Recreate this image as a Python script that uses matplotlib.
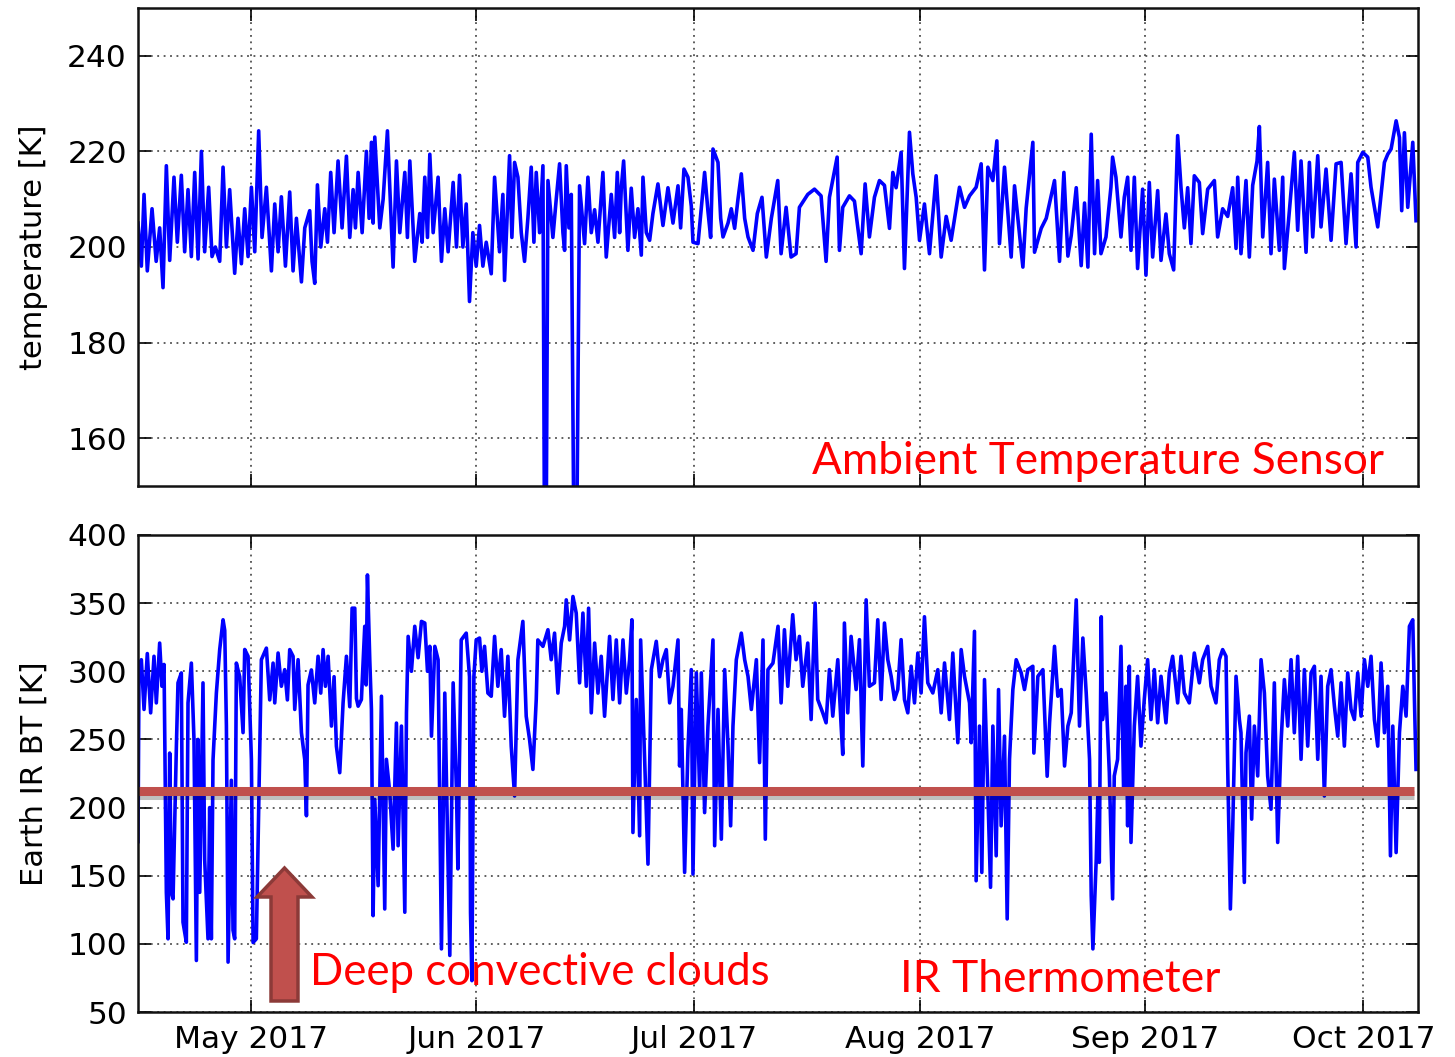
import numpy as np
import pandas as pd
import matplotlib
matplotlib.use("Agg")
import matplotlib.pyplot as plt
import matplotlib.dates as mdates
import matplotlib.patheffects as pe
from matplotlib.patches import Polygon

# ---------------- data ----------------
start_time = "2017-04-15 11:00"
end_days = 176.07

# Ambient temperature sensor: time (days after start) and temperature [K]
temp_days = [
    0.0, 0.46, 0.83, 1.28, 1.93, 2.5, 2.98, 3.44, 3.9, 4.36, 4.95, 5.41, 5.96, 6.42, 6.88, 7.34,
    7.8, 8.26, 8.72, 9.17, 9.72, 10.18, 10.64, 11.24, 11.7, 12.16, 12.61, 13.3, 13.76, 14.22,
    14.68, 15.14, 15.6, 16.06, 16.6, 17.06, 17.66, 18.35, 18.81, 19.27, 19.72, 20.28, 20.87,
    21.33, 21.79, 22.48, 22.94, 23.62, 23.94, 24.31, 24.68, 25.14, 25.69, 26.06, 26.51, 26.97,
    27.52, 28.07, 28.67, 29.13, 29.59, 29.91, 30.28, 30.83, 31.42, 31.79, 32.11, 32.34, 32.57,
    33.26, 33.72, 34.31, 35.09, 35.55, 36.01, 36.7, 37.06, 37.39, 38.07, 38.76, 39.08, 39.45,
    39.82, 40.14, 40.6, 41.28, 41.74, 42.2, 42.66, 43.35, 43.81,
    44.23, 44.69, 45.15, 45.6, 46.06, 46.52, 46.98, 47.44, 47.9, 48.59, 49.05, 49.73, 50.19,
    50.42, 51.11, 51.43, 51.8, 52.26, 52.72, 53.17, 53.63, 54.09, 54.46, 54.78, 55.24, 55.7,
    56.02, 56.39, 57.07, 57.53, 57.99, 58.45, 58.68, 58.91, 59.28, 59.6, 60.15, 60.74, 61.43,
    61.89, 62.35, 62.81, 63.27, 63.95, 64.41, 65.1, 65.56, 65.93, 66.25, 66.48, 66.8, 67.39,
    67.85, 68.31, 68.77, 69.23, 69.46, 69.92, 70.38, 70.83, 71.52, 72.21, 72.9, 73.59, 74.28,
    74.64, 75.1, 75.65, 76.11, 76.34, 77.03, 77.94, 78.4, 78.77, 79.09, 79.78, 80.15, 80.47,
    81.16, 81.61, 82.07, 82.53, 82.99, 83.45, 83.91, 84.6, 85.19, 85.83, 86.43, 87.12,
    88.0, 88.46, 89.15, 89.83, 90.52, 90.98, 92.13, 93.05, 93.96, 94.65, 95.11, 96.17, 96.49,
    96.94, 97.86, 98.55, 99.47, 100.02, 100.61, 101.3, 101.99, 102.68, 103.37, 103.83, 104.28,
    104.97, 105.43, 106.12, 106.58, 107.04, 107.5, 108.18, 108.87, 109.79, 110.48, 111.17,
    111.85, 113.0, 113.69, 114.38, 115.29, 115.98, 116.44, 116.9, 117.59, 118.14, 118.5,
    119.19, 120.11, 120.57, 121.72, 122.17, 123.09, 123.32, 124.24, 124.93, 126.07, 126.76,
    127.36, 127.91, 128.37, 129.06, 129.74, 130.2, 130.66, 131.12, 131.58, 132.0, 132.46,
    133.15, 133.83, 134.06, 134.52, 135.21, 135.67, 136.13, 136.59, 137.05, 137.5, 138.19,
    138.65, 139.11, 139.57, 140.26, 140.72, 141.4, 141.86, 142.46, 143.01, 143.47, 143.93,
    144.39, 144.84, 145.3, 145.99, 146.45, 147.14, 148.06, 148.51, 149.2, 149.89, 150.58,
    151.04, 151.27, 151.72, 152.41, 152.87, 153.33, 153.93, 154.25, 154.71, 155.39, 155.85,
    156.31, 157.0, 157.46, 157.69, 158.38, 159.06, 159.52, 159.98, 160.67, 161.13, 161.59,
    162.28, 162.73, 163.42, 164.11, 164.8, 165.49, 166.17, 166.86, 167.55, 167.78, 168.47,
    169.16, 169.61, 170.53, 171.45, 171.91, 172.37, 173.06, 173.52, 173.83, 174.2, 174.66,
    175.35, 175.8,
]
temp_vals = [
    205, 196, 211, 195, 208, 197, 204, 191.5, 217, 197.2, 214.6, 201, 215, 199, 212, 198,
    215.6, 197.5, 220, 199, 212.5, 198, 200, 197, 216.7, 200, 212, 194.5, 206, 196.5,
    208, 198, 212.5, 199, 224.3, 202, 212.5, 195, 209, 199, 210.5, 196, 211.5,
    195, 206, 192.7, 204, 207.6, 197, 192.4, 213, 200, 208, 201, 215.6, 203,
    218, 204, 219, 202, 212, 204, 215.6, 203, 220, 206, 221.9, 205, 223,
    204, 210, 224.3, 195.8, 218, 203, 215.6, 202, 218, 197, 207, 201, 214.6,
    202, 219.4, 203, 214.6, 197, 208, 199, 213.5, 200,
    215, 200, 209, 188.6, 203, 196, 204.5, 196, 201, 194.4, 214.6, 199, 211,
    193, 219.1, 202, 217.7, 214.6, 203, 197, 206, 216.7, 201, 215.6, 203, 217,
    100, 213.9, 202, 210, 217.4, 203, 199.3, 217, 204, 211, 100, 212.8, 200.7,
    214.6, 203, 207.8, 201, 215.6, 197.9, 211, 202, 215.6, 203, 212.4, 218, 199.3,
    212.3, 202, 208, 198.3, 214.6, 203, 201.4, 207, 213.2, 204.5, 212.4, 205, 212.8,
    204, 216.3, 214.6, 208.5, 201, 200.7, 215.6, 207.5, 202, 220.5, 217.7, 206, 202.1,
    205, 208, 203.9, 210, 215.3, 206, 202.1, 199.3, 207, 210.4, 197.9, 206,
    213.9, 198.6, 208.3, 197.9, 198.6, 208.3, 211, 212.1, 210.7, 197, 210.4, 218.8, 199.3,
    208.3, 210.7, 209.6, 198.6, 213.2, 202.1, 210.4, 213.9, 212.9, 203.9, 215.6, 212.4,
    219.8, 195.5, 224, 215.3, 210.4, 201.4, 209, 198.6, 214.9, 197.9, 206.4,
    201.4, 212.5, 208.3, 210.7, 212.5, 217.4, 195.2, 216.7, 213.9, 222.2, 200.7,
    216.7, 197.9, 212.8, 195.8, 208.1, 221.9, 198.9, 203.9, 206, 213.9, 197,
    215.6, 198.1, 202.4, 212.4, 196.1, 209.2, 195.8, 223.6, 198.6, 213.9, 198.6,
    202.1, 212.5, 218.8, 214.6, 202.1, 210.4, 214.6, 199.3, 214.6, 195.5, 212.1,
    194.1, 213.5, 197.9, 211.8, 197.2, 206.9, 198.6, 195.2, 223.3, 212.4, 204,
    212.4, 200.7, 214.9, 213.5, 202.8, 212.1, 213.9, 202.1, 208, 206.4, 212.4,
    199.7, 214.6, 198.6, 213.9, 197.9, 212.9, 218, 225.2, 202.1, 217.7, 198.6,
    214.2, 199.3, 214.6, 195.5, 207.6, 219.8, 203.5, 218, 198.9, 217.7, 202.1,
    219.1, 204.2, 216.3, 201.4, 217.4, 217.7, 200.7, 215.3, 200, 217.7, 219.8,
    218.8, 212.5, 204.2, 217.7, 219.4, 220.5, 226.4, 222.9, 207.6, 223.9, 208.3,
    221.9, 205.5,
]

# IR thermometer: time (days after start) and Earth IR brightness temperature [K]
ir_days = [
    0.0, 0.14, 0.46, 0.83, 1.28, 1.74, 2.2, 2.52, 2.98, 3.3, 3.58, 3.9, 4.13, 4.36, 4.59, 4.82,
    5.28, 5.5, 5.96, 6.19, 6.65, 6.88, 7.34, 7.7, 8.03, 8.26, 8.49, 8.94, 9.17, 9.63, 9.86,
    10.09, 10.32, 10.78, 11.24, 11.7, 11.93, 12.16, 12.39, 12.84, 13.07, 13.3, 13.53, 13.99,
    14.45, 14.68, 15.14, 15.6, 15.83, 16.28, 16.6, 16.97, 17.66, 18.12, 18.58, 18.81, 19.27,
    19.72, 20.18, 20.55, 20.87, 21.33, 21.56, 22.02, 22.48, 22.94, 23.17, 23.39, 23.85, 24.31,
    24.77, 25.14, 25.46, 25.78, 26.15, 26.61, 26.97, 27.29, 27.75, 28.21, 28.67, 29.13, 29.45,
    29.82, 30.05, 30.28, 30.73, 31.19, 31.38, 31.56, 31.88, 32.11, 32.34, 32.57, 33.03, 33.49,
    33.94, 34.17, 34.63, 35.09, 35.55, 35.78, 36.24, 36.7, 36.93, 37.16, 37.61, 38.07, 38.53,
    38.99, 39.45, 39.82, 40.14, 40.37, 40.83, 41.28, 41.74, 42.2, 42.89, 43.35, 43.81,
    44.0, 44.46, 45.15, 45.6, 45.74, 45.93, 46.2, 46.52, 46.98, 47.3, 47.67, 48.13, 48.59,
    49.05, 49.5, 49.96, 50.42, 50.88, 51.34, 51.8, 52.26, 52.94, 53.4, 53.86, 54.32, 54.78,
    55.0, 55.7, 56.39, 56.84, 57.3, 57.76, 58.22, 58.68, 58.91, 59.37, 59.83, 60.28, 60.74,
    61.2, 61.66, 61.98, 62.35, 62.81, 63.27, 63.72, 64.18, 64.87, 65.33, 65.79, 66.25, 66.71,
    67.17, 67.62, 67.94, 68.08, 68.54, 69.0, 69.14, 69.69, 70.15, 70.61, 71.29, 71.75, 72.21,
    72.67, 73.13, 73.59, 74.28, 74.5, 74.73, 75.19, 75.65, 76.11, 76.34, 76.8, 77.26, 77.49,
    77.94, 78.4, 79.09, 79.32, 79.78, 80.24, 80.7, 81.16, 81.52, 81.84, 82.3, 82.99, 83.45,
    83.91, 84.37, 85.06, 85.5, 85.97, 86.29, 86.65, 87.34, 88.04,
    88.46, 88.92, 89.38, 90.06, 90.52, 90.98, 91.44, 92.13, 92.59, 93.14, 93.5, 94.19, 94.65,
    95.11, 95.57, 96.26, 96.72, 96.94, 97.17, 97.63, 98.09, 98.78, 99.24, 99.7, 100.16,
    100.61, 101.3, 101.76, 102.22, 102.68, 103.14, 103.6, 104.06, 104.51, 104.97, 105.43,
    105.89, 106.35, 106.81, 107.27, 107.72, 108.18, 108.64, 109.33, 110.02, 110.48, 110.94,
    111.62, 112.08, 112.77, 113.23, 113.69, 114.38, 114.61, 115.06, 115.29, 115.75, 116.07,
    116.44, 116.9, 117.27, 117.59, 118.05, 118.37, 118.73, 119.19, 119.56, 119.88, 120.34,
    120.8, 121.49, 121.94, 122.4, 123.09, 123.23, 123.78, 124.47, 125.06, 125.39, 126.07,
    126.53, 126.99, 127.45, 127.91, 128.37, 129.06, 129.51, 129.97, 130.43, 130.89, 131.12,
    131.35, 131.81, 132.04, 132.23, 132.5,
    132.69, 133.15, 133.61, 134.06, 134.29, 134.75, 135.21, 135.58, 135.9, 136.13, 136.36,
    136.59, 137.05, 137.5, 137.96, 138.42, 138.88, 139.34, 139.8, 140.26, 140.72, 141.4,
    141.86, 142.32, 143.01, 143.47, 143.93, 144.61, 145.3, 145.99, 146.45, 147.14, 147.6,
    148.28, 148.74, 149.2, 149.66, 149.89, 150.26, 150.58, 151.04, 151.5, 151.72, 152.18,
    152.41, 152.87, 153.19, 153.56, 154.02, 154.48, 154.94, 155.39, 155.85, 156.31, 156.77,
    157.23, 157.69, 158.15, 158.61, 159.06, 159.52, 159.98, 160.44, 160.9, 161.36, 161.82,
    162.28, 162.73, 163.19, 163.65, 164.11, 164.57, 165.03, 165.49, 165.94, 166.4, 166.86,
    167.32, 167.78, 168.24, 168.7, 169.16, 169.61, 170.07, 170.53, 170.99, 171.45, 171.91,
    172.28, 172.6, 173.06, 173.52, 173.98, 174.43, 174.89, 175.35, 175.58, 175.8,
]
ir_vals = [
    175, 300, 308.5, 272, 313, 269.5, 311, 276.8, 320.7, 289, 305, 137.8, 103.7, 240, 137.8, 133,
    245, 291.5, 298.8, 115.9, 101.2, 276.8, 306, 250, 87.8, 250, 137.8, 291.5, 162, 103.7, 200,
    103.7, 235, 284, 316, 337.8, 330, 260, 86.6, 220, 110, 103.7, 306, 296,
    255, 316, 311, 235, 101, 103.7, 199, 308.5, 317, 279, 306, 276.8, 313.4,
    289, 301.2, 279, 315.9, 311, 272, 308.5, 255, 235, 194, 290, 301, 276.8,
    311, 284, 315.9, 289, 311, 259.8, 296, 245, 225.6, 276.8, 311, 274, 346.3,
    346.3, 280, 274.4, 279.3, 333, 290, 370.7, 308.5, 272, 120.7, 206, 142.7, 281.7,
    125.6, 235.4, 211, 169.5, 262, 172, 259.8, 123.2, 269.5, 325.6, 300, 333, 310,
    336.6, 335.4, 300, 318.3, 252.4, 318.3, 308.5, 96.3, 284, 91.5, 291.5, 211,
    155, 323, 328, 296, 123, 73, 296, 323, 324.4, 300, 318.3, 284, 281.7,
    325.6, 289, 315.9, 267, 311, 245, 208.5, 308.5, 336.6, 267, 250, 228, 279.3,
    323, 318.3, 330.5, 308.5, 328, 284, 320.7, 333, 352.4, 323, 354.9, 342.7, 291.5,
    342.7, 289, 346.3, 269.5, 320.7, 284, 311, 267, 325.6, 279.3, 323, 276.8, 323,
    284, 308.5, 337.8, 181.7, 279.3, 179.3, 323, 235.4, 158.5, 301.2, 322, 296, 308.5,
    315.9, 276.8, 289, 323, 230.5, 272, 152.4, 242.7, 301.2, 151.2, 298.8, 211, 298.8,
    196.3, 259.8, 323, 172, 272, 176.8, 301.2, 245, 186.6, 259.8, 308.5, 328, 308.5,
    296.3, 272, 308.5, 233, 323, 176.8, 301.2, 306, 333,
    276.8, 330.5, 289, 341.5, 308.5, 325.6, 289, 320.7, 264.6, 350, 279.3, 269.5, 262.2,
    301.2, 267.1, 308.5, 259.8, 239, 335.4, 269.5, 325.6, 286.6, 323.2, 230.5, 352.4,
    289, 291.5, 337.8, 279.3, 335.4, 308.5, 296.3, 279.3, 286.6, 323.2, 279.3,
    269.5, 303.7, 276.8, 313.4, 284.1, 340, 291.5, 284.1, 301.2, 269.5, 306.1,
    264.6, 313.4, 247.6, 315.9, 296.3, 276.8, 247.6, 329.3, 146.3, 259.8, 152.4,
    293.9, 211, 141.5, 259.8, 164.6, 286.6, 186.6, 252.4, 118.3, 235.4, 286.6,
    308.5, 298.8, 286.6, 301.2, 303.7, 240, 296.3, 301.2, 223, 262.2, 318.3,
    281.7, 286.6, 230.5, 259.8, 269.5, 352.4, 259.8, 324.4, 284.1, 235.4, 135.4,
    96.3, 162.2, 211, 159.8, 340,
    264.6, 284.1, 225.6, 133, 223.2, 235.4, 318.3, 211, 289, 186.6, 303.7,
    174.4, 259.8, 296.3, 245.1, 279.3, 308.5, 264.6, 301.2, 262.2, 296.3, 262.2,
    298.8, 311, 276.8, 311, 284.1, 276.8, 313.4, 291.5, 308.5, 318.3, 289,
    276.8, 308.5, 315.9, 311, 230.5, 125.6, 184.1, 296.3, 264.6, 254.9, 145.1,
    240.2, 267.1, 191.5, 259.8, 223.2, 308.5, 284.1, 223.2, 198.8, 291.5, 174.4,
    247.6, 293.9, 259.8, 308.5, 254.9, 311, 235.4, 301.2, 245.1, 298.8, 303.7,
    235.4, 296.3, 208.5, 289, 301.2, 274.4, 252.4, 291.5, 245.1, 298.8, 272,
    264.6, 298.8, 267.1, 308.5, 289, 311, 264.6, 245.1, 306.1, 254.9, 289,
    164.6, 259.8, 167, 254.9, 289, 267.1, 333, 337.8, 279.3, 228,
]

cloud_threshold = 212.5  # K, deep convective cloud threshold line

top_yticks = [160, 180, 200, 220, 240]
bottom_yticks = [50, 100, 150, 200, 250, 300, 350, 400]

# ---------------- figure ----------------
W, H = 1455, 1057
fig = plt.figure(figsize=(W / 100, H / 100), dpi=100)
plt.rcParams['font.family'] = ['DejaVu Sans']

def fx(px):
    return px / W

def fy(py):
    return 1 - py / H

ax1 = fig.add_axes([fx(138), fy(486), fx(1418) - fx(138), fy(8) - fy(486)])
ax2 = fig.add_axes([fx(138), fy(1012), fx(1418) - fx(138), fy(535) - fy(1012)])

t0 = pd.Timestamp(start_time)
t_temp = t0 + pd.to_timedelta(np.array(temp_days), unit="D")
t_ir = t0 + pd.to_timedelta(np.array(ir_days), unit="D")
t_end = t0 + pd.to_timedelta(end_days, unit="D")

ax1.plot(t_temp, temp_vals, color="#0000ff", lw=2.6)
ax2.plot(t_ir, ir_vals, color="#0000ff", lw=2.6)

ax1.set_ylim(150, 250)
ax2.set_ylim(50, 400)
ax1.set_yticks(top_yticks)
ax2.set_yticks(bottom_yticks)

for ax in (ax1, ax2):
    ax.set_xlim(t0, t_end)
    ax.xaxis.set_major_locator(mdates.MonthLocator())
    ax.xaxis.set_major_formatter(mdates.DateFormatter("%b %Y"))
    ax.grid(True, color="#333333", linestyle=(0, (1.2, 3)), linewidth=1.1)
    ax.tick_params(direction="in", length=9, width=1.2, top=True, right=True,
                   labelsize=22.5, pad=8, colors="black")
    for s in ax.spines.values():
        s.set_linewidth(1.8)
        s.set_color("#111111")

ax1.tick_params(labelbottom=False)
ax2.tick_params(axis="x", pad=9)
ax1.set_ylabel("temperature [K]", fontsize=22)
ax2.set_ylabel("Earth IR BT [K]", fontsize=22)
ax1.yaxis.set_label_coords(-0.07, 0.5)
ax2.yaxis.set_label_coords(-0.07, 0.5)

# threshold line with soft shadow
ax2.axhline(cloud_threshold, xmin=0, xmax=0.997, color="#c0504d", lw=6.5,
            solid_capstyle="butt",
            path_effects=[pe.SimpleLineShadow(offset=(0, -3.5), shadow_color="#000000", alpha=0.25),
                          pe.Normal()])

# block arrow (annotation), figure pixel layout
arrow_px = [(271, 1001), (298, 1001), (298, 897), (312, 897), (284.5, 868),
            (257, 897), (271, 897)]
arrow_in = [(x / 100, (H - y) / 100) for x, y in arrow_px]
fig.patches.append(Polygon(arrow_in, closed=True, transform=fig.dpi_scale_trans,
                           facecolor="#c0504d", edgecolor="#8c3a38", lw=2.5,
                           joinstyle="miter", figure=fig))

red_font = ["Lato", "DejaVu Sans"]
fig.text(fx(812), fy(474), "Ambient Temperature Sensor", color="#ff0000",
         fontsize=31.8, family=red_font, va="baseline", ha="left")
fig.text(fx(310), fy(985), "Deep convective clouds", color="#ff0000",
         fontsize=31.5, family=red_font, va="baseline", ha="left")
fig.text(fx(900), fy(992), "IR Thermometer", color="#ff0000",
         fontsize=32, family=red_font, va="baseline", ha="left")

fig.savefig("out.png", dpi=100)
